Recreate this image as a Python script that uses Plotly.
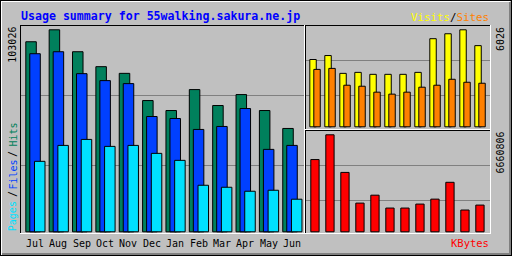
import plotly.graph_objects as go

W, H = 512, 256

months = ["Jul", "Aug", "Sep", "Oct", "Nov", "Dec", "Jan", "Feb", "Mar", "Apr", "May", "Jun"]
hits = [96930, 103026, 91845, 84220, 80815, 66940, 61858, 72532, 64400, 69990, 61858, 52708]
files = [90830, 91845, 80660, 77105, 75580, 58807, 57790, 52200, 53725, 62873, 42035, 44067]
pages = [35935, 44067, 47117, 43560, 44067, 40000, 36443, 23737, 22720, 20687, 21195, 16620]
visits = [4181, 4427, 3320, 3382, 3259, 3259, 3259, 3382, 5473, 5780, 6026, 5042]
sites = [3566, 3628, 2583, 2521, 2152, 2029, 2152, 2460, 2583, 2952, 2767, 2706]
kbytes = [4961600, 6660806, 4078000, 1971000, 2514800, 1631200, 1631200, 1903100, 2242900, 3398350, 1495300, 1835100]

title = "Usage summary for 55walking.sakura.ne.jp"

C_HITS = "#00805C"
C_FILES = "#0040FF"
C_PAGES = "#00E0FF"
C_VISITS = "#FFFF00"
C_SITES = "#FF8000"
C_KB = "#FF0000"
BG = "#C0C0C0"
GRID = "#808080"
FONT = "DejaVu Sans Mono"

idx = list(range(12))


def px(p):
    return p / W


def py(p):
    return 1 - p / H


def yrange(p_top, p_bot, p_zero, p_max, vmax):
    s = vmax / (p_zero - p_max)
    return [(p_zero - p_bot) * s, (p_zero - p_top) * s], s


fig = go.Figure()

# ---- main panel (hits/files/pages)
step_m = 23.36
x0m = 25.8
bw = 0.45
for vals, col, off in [(hits, C_HITS, 0.0), (files, C_FILES, 4.0 / step_m), (pages, C_PAGES, 8.7 / step_m)]:
    fig.add_trace(go.Bar(x=idx, y=vals, xaxis="x", yaxis="y", marker=dict(color=col, line=dict(color="black", width=1)),
                         offset=off, width=bw, hoverinfo="skip", showlegend=False))

# ---- top right (visits/sites)
step_r = 15.0
x0r = 309.8
for vals, col, off in [(visits, C_VISITS, 0.0), (sites, C_SITES, 4.0 / step_r)]:
    fig.add_trace(go.Bar(x=idx, y=vals, xaxis="x2", yaxis="y2", marker=dict(color=col, line=dict(color="black", width=1)),
                         offset=off, width=0.43, hoverinfo="skip", showlegend=False))

# ---- bottom right (kbytes)
fig.add_trace(go.Bar(x=idx, y=kbytes, xaxis="x3", yaxis="y3", marker=dict(color=C_KB, line=dict(color="black", width=1)),
                     offset=1.0 / step_r, width=0.553, hoverinfo="skip", showlegend=False))

r1, s1 = yrange(25, 234, 231.8, 29.8, max(hits))
r2, s2 = yrange(25, 130, 126.8, 29.8, max(visits))
r3, s3 = yrange(130, 234, 231.8, 134.8, max(kbytes))


def yax(dom_top, dom_bot, rng, p_zero, s, grids):
    return dict(domain=[py(dom_bot), py(dom_top)], range=rng, showgrid=True, gridcolor=GRID, gridwidth=1,
                tickvals=[(p_zero - g) * s for g in grids], showticklabels=False, ticks="", zeroline=False,
                showline=False, fixedrange=True)


def xax(dom_l, dom_r, x0, step, anchor):
    return dict(domain=[px(dom_l), px(dom_r)], range=[(dom_l - x0) / step, (dom_r - x0) / step],
                showgrid=False, zeroline=False, showticklabels=False, ticks="", showline=False,
                anchor=anchor, fixedrange=True)


fig.update_layout(
    width=W, height=H, autosize=False,
    margin=dict(l=0, r=0, t=0, b=0, pad=0),
    paper_bgcolor=BG, plot_bgcolor="rgba(0,0,0,0)",
    barmode="overlay",
    xaxis=xax(20, 305, x0m, step_m, "y"),
    yaxis=yax(25, 234, r1, 231.8, s1, [95, 165]),
    xaxis2=xax(305, 491, x0r, step_r, "y2"),
    yaxis2=dict(yax(25, 130, r2, 126.8, s2, [60, 95]), anchor="x2"),
    xaxis3=xax(305, 491, x0r, step_r, "y3"),
    yaxis3=dict(yax(130, 234, r3, 231.8, s3, [165, 200]), anchor="x3"),
)
fig.layout.yaxis.anchor = "x"

shapes = []


def line(x0, y0, x1, y1, color):
    shapes.append(dict(type="line", xref="paper", yref="paper", x0=px(x0), y0=py(y0), x1=px(x1), y1=py(y1),
                       line=dict(color=color, width=1), layer="above"))


# outer frame
line(0, 0.5, 512, 0.5, "black")
line(0, 255.5, 512, 255.5, "black")
line(0.5, 0, 0.5, 256, "black")
line(511.5, 0, 511.5, 256, "black")
line(1, 1.5, 510, 1.5, "white")
line(1.5, 1, 1.5, 255, "white")
line(2, 254.5, 511, 254.5, GRID)
line(2, 253.5, 511, 253.5, GRID)
line(510.5, 2, 510.5, 255, GRID)
line(509.5, 2, 509.5, 255, GRID)

# panels
for (l, t, r, b) in [(20, 25, 305, 234), (305, 25, 491, 130), (305, 130, 491, 234)]:
    line(l, t + 0.5, r, t + 0.5, "black")
    line(l + 0.5, t, l + 0.5, b, "black")
    line(l, b - 0.5, r, b - 0.5, "white")
    line(r - 0.5, t, r - 0.5, b, "white")

fig.update_layout(shapes=shapes)

ann = []


def text(x, y, s, color, size=10, angle=0, xanchor="center", bold=False):
    if bold:
        s = "<b>" + s + "</b>"
    ann.append(dict(x=px(x), y=py(y), xref="paper", yref="paper", text=s, showarrow=False, textangle=angle,
                    xanchor=xanchor, yanchor="middle", font=dict(family=FONT, size=size, color=color),
                    borderpad=0))


text(20, 15.5, title, "#0000FF", size=11.6, xanchor="left", bold=True)
text(490, 17, "<span style='color:#FFFF00'>Visits</span>/<span style='color:#FF8000'>Sites</span>", "black",
     size=10.8, xanchor="right")
text(490, 243, "KBytes", C_KB, size=10.5, xanchor="right")

# month labels
for i, m in enumerate(months):
    xc = x0m - 0.5 + step_m * i + 9.7
    text(xc, 243, m, "black", size=10)

# max labels
text(13, 44.7, str(max(hits)), "black", size=10, angle=-90)
text(500, 39, str(max(visits)), "black", size=10, angle=-90)
text(500, 152.5, str(max(kbytes)), "black", size=10, angle=-90)

# left legend
text(12.5, 216.7, "Pages", C_PAGES, size=10, angle=-90)
text(12.5, 194.5, "/", "black", size=10, angle=-90)
text(12.5, 175, "Files", C_FILES, size=10, angle=-90)
text(12.5, 154.5, "/", "black", size=10, angle=-90)
text(12.5, 135, "Hits", C_HITS, size=10, angle=-90)

fig.update_layout(annotations=ann)

fig.write_html("out.html", config=dict(displayModeBar=False))
